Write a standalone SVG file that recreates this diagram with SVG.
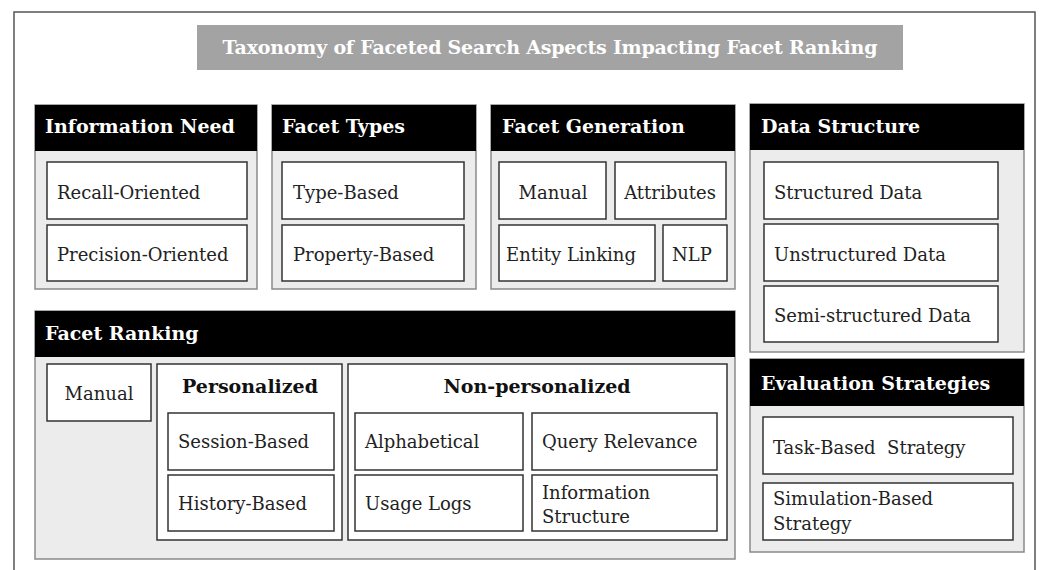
<svg xmlns="http://www.w3.org/2000/svg" width="1051" height="570" viewBox="0 0 1051 570">
<style>
text{font-family:"DejaVu Serif","Liberation Serif",serif;}
.frame{fill:#fff;stroke:#555;stroke-width:1.5}
.title{fill:#a3a3a3}
.tt{fill:#fff;font-weight:bold;font-size:19px}
.sec{fill:#ececec;stroke:#8a8a8a;stroke-width:1.5}
.hd{fill:#000}
.ht{fill:#fff;font-weight:bold;font-size:19px}
.box{fill:#fff;stroke:#333;stroke-width:1.5}
.bt{fill:#222;font-size:18px}
.bb{fill:#111;font-size:19px;font-weight:bold}
</style>
<rect class="frame" x="14" y="12" width="1021" height="580"/>
<g id="title">
<rect class="title" x="197" y="25" width="706" height="45"/>
<text class="tt" x="550" y="54" text-anchor="middle" textLength="655">Taxonomy of Faceted Search Aspects Impacting Facet Ranking</text>
</g>
<g id="information-need">
<rect class="sec" x="35" y="105" width="222" height="184"/>
<rect class="hd" x="35" y="105" width="222" height="46"/>
<text class="ht" x="45" y="133">Information Need</text>
<rect class="box" x="47" y="162" width="200" height="57"/>
<text class="bt" x="57" y="199">Recall-Oriented</text>
<rect class="box" x="47" y="225" width="200" height="56"/>
<text class="bt" x="57" y="261">Precision-Oriented</text>
</g>
<g id="facet-types">
<rect class="sec" x="272" y="105" width="204" height="184"/>
<rect class="hd" x="272" y="105" width="204" height="46"/>
<text class="ht" x="282" y="133">Facet Types</text>
<rect class="box" x="282" y="162" width="182" height="57"/>
<text class="bt" x="293" y="199">Type-Based</text>
<rect class="box" x="282" y="225" width="182" height="56"/>
<text class="bt" x="293" y="261">Property-Based</text>
</g>
<g id="facet-generation">
<rect class="sec" x="491" y="105" width="244" height="184"/>
<rect class="hd" x="491" y="105" width="244" height="46"/>
<text class="ht" x="502" y="133">Facet Generation</text>
<rect class="box" x="499" y="162" width="107" height="57"/>
<text class="bt" x="553" y="199" text-anchor="middle">Manual</text>
<rect class="box" x="615" y="162" width="111" height="57"/>
<text class="bt" x="670" y="199" text-anchor="middle">Attributes</text>
<rect class="box" x="499" y="225" width="156" height="56"/>
<text class="bt" x="571" y="261" text-anchor="middle">Entity Linking</text>
<rect class="box" x="663" y="225" width="64" height="56"/>
<text class="bt" x="692" y="261" text-anchor="middle">NLP</text>
</g>
<g id="data-structure">
<rect class="sec" x="750" y="104" width="274" height="248"/>
<rect class="hd" x="750" y="104" width="274" height="46"/>
<text class="ht" x="761" y="133">Data Structure</text>
<rect class="box" x="764" y="162" width="234" height="57"/>
<text class="bt" x="774" y="199">Structured Data</text>
<rect class="box" x="764" y="224" width="234" height="57"/>
<text class="bt" x="774" y="261">Unstructured Data</text>
<rect class="box" x="764" y="286" width="234" height="56"/>
<text class="bt" x="774" y="322">Semi-structured Data</text>
</g>
<g id="evaluation-strategies">
<rect class="sec" x="750" y="359" width="274" height="193"/>
<rect class="hd" x="750" y="359" width="274" height="47"/>
<text class="ht" x="761" y="390">Evaluation Strategies</text>
<rect class="box" x="763" y="417" width="250" height="57"/>
<text class="bt" x="773" y="454" xml:space="preserve">Task-Based  Strategy</text>
<rect class="box" x="763" y="483" width="250" height="57"/>
<text class="bt" x="773" y="505">Simulation-Based</text>
<text class="bt" x="773" y="530">Strategy</text>
</g>
<g id="facet-ranking">
<rect class="sec" x="35" y="311" width="700" height="248"/>
<rect class="hd" x="35" y="311" width="700" height="46"/>
<text class="ht" x="45" y="340">Facet Ranking</text>
<rect class="box" x="47" y="364" width="104" height="57"/>
<text class="bt" x="99" y="400" text-anchor="middle">Manual</text>
</g>
<g id="personalized">
<rect class="box" x="157" y="364" width="185" height="176"/>
<text class="bb" x="250" y="393" text-anchor="middle">Personalized</text>
<rect class="box" x="168" y="413" width="166" height="57"/>
<text class="bt" x="178" y="448">Session-Based</text>
<rect class="box" x="168" y="475" width="166" height="56"/>
<text class="bt" x="178" y="510">History-Based</text>
</g>
<g id="non-personalized">
<rect class="box" x="348" y="364" width="379" height="176"/>
<text class="bb" x="537" y="393" text-anchor="middle">Non-personalized</text>
<rect class="box" x="355" y="413" width="168" height="57"/>
<text class="bt" x="365" y="448">Alphabetical</text>
<rect class="box" x="532" y="413" width="185" height="57"/>
<text class="bt" x="542" y="448">Query Relevance</text>
<rect class="box" x="355" y="475" width="168" height="56"/>
<text class="bt" x="365" y="510">Usage Logs</text>
<rect class="box" x="532" y="475" width="185" height="56"/>
<text class="bt" x="542" y="499">Information</text>
<text class="bt" x="542" y="523">Structure</text>
</g>
<g id="connectors"></g>
</svg>
